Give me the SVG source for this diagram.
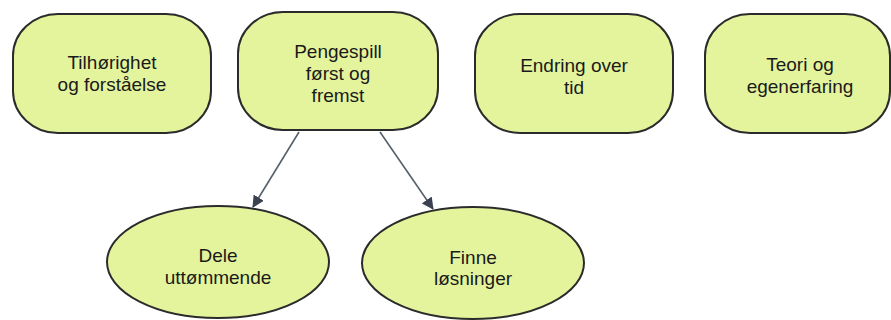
<svg xmlns="http://www.w3.org/2000/svg" width="891" height="320" viewBox="0 0 891 320">
<defs>
<style>
.node{fill:#e4f49d;stroke:#2b2b2b;stroke-width:2}
.lbl{font-family:"Liberation Sans",Arial,sans-serif;font-size:19px;fill:#1a1a1a;text-anchor:middle}
.conn{stroke:#56606a;stroke-width:1.6;fill:none}
</style>
<marker id="arr" viewBox="0 0 12 12" refX="11" refY="6" markerWidth="12" markerHeight="12" markerUnits="userSpaceOnUse" orient="auto">
<path d="M0,0 L12,6 L0,12 Z" fill="#3a4250"/>
</marker>
</defs>
<rect width="891" height="320" fill="#ffffff"/>
<g id="connectors">
<line class="conn" x1="299" y1="132" x2="253" y2="207" marker-end="url(#arr)"/>
<line class="conn" x1="380" y1="132" x2="433" y2="209" marker-end="url(#arr)"/>
</g>
<g id="n1">
<rect class="node" x="13" y="14" width="198" height="119" rx="45" ry="42"/>
<text class="lbl" x="112" y="69">Tilhørighet</text>
<text class="lbl" x="112" y="91">og forståelse</text>
</g>
<g id="n2">
<rect class="node" x="238" y="12" width="200" height="118" rx="45" ry="42"/>
<text class="lbl" x="338" y="58">Pengespill</text>
<text class="lbl" x="338" y="80">først og</text>
<text class="lbl" x="338" y="102">fremst</text>
</g>
<g id="n3">
<rect class="node" x="475" y="14" width="198" height="119" rx="45" ry="42"/>
<text class="lbl" x="574" y="72">Endring over</text>
<text class="lbl" x="574" y="94">tid</text>
</g>
<g id="n4">
<rect class="node" x="705" y="14" width="185" height="119" rx="45" ry="42"/>
<text class="lbl" x="800" y="71">Teori og</text>
<text class="lbl" x="800" y="93">egenerfaring</text>
</g>
<g id="n5">
<ellipse class="node" cx="218" cy="262" rx="111" ry="56"/>
<text class="lbl" x="218" y="262">Dele</text>
<text class="lbl" x="218" y="284">uttømmende</text>
</g>
<g id="n6">
<ellipse class="node" cx="473" cy="263" rx="111" ry="56"/>
<text class="lbl" x="473" y="264">Finne</text>
<text class="lbl" x="473" y="285">løsninger</text>
</g>
</svg>
